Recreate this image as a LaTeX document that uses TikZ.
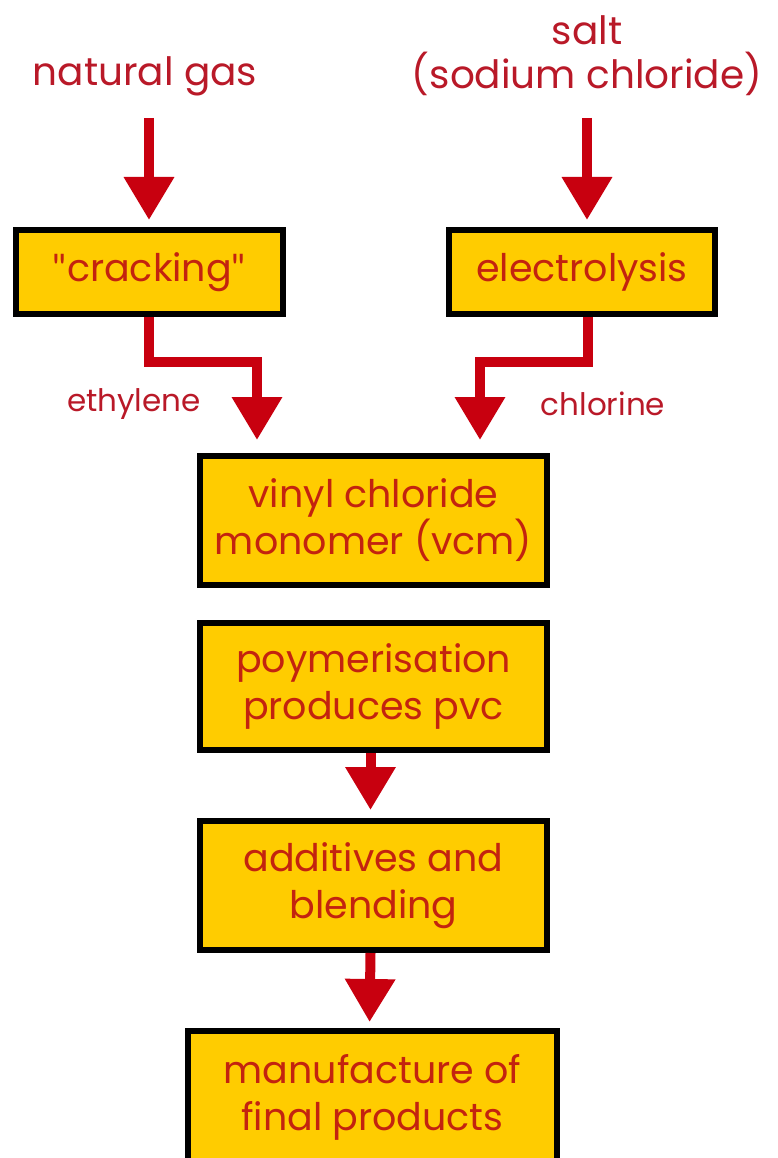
\documentclass[tikz,border=0pt]{standalone}
\usepackage{fontspec}
\setmainfont{Poppins}
\newfontfamily\quotefont{Lato}
\usetikzlibrary{arrows.meta,calc}

\definecolor{inkred}{RGB}{185,25,40}
\definecolor{boxred}{RGB}{195,35,15}
\definecolor{flowred}{RGB}{200,0,15}
\definecolor{boxgold}{RGB}{255,204,0}

\newcommand{\sq}{{\quotefont\symbol{34}}}

\tikzset{
  stage/.style={draw=black, line width=6pt, fill=boxgold, text=boxred,
    align=center, inner sep=0pt,
    font=\fontsize{38}{47}\selectfont},
  source/.style={text=inkred, align=center, inner sep=0pt,
    font=\fontsize{39}{44}\selectfont},
  product/.style={text=inkred, inner sep=0pt,
    font=\fontsize{31}{34}\selectfont},
  flow/.style={draw=flowred, line width=10pt,
    -{Triangle[width=48pt,length=43pt]}},
}

\begin{document}
\begin{tikzpicture}[x=1pt,y=-1pt]
\useasboundingbox (0,0) rectangle (777,1158);

% raw materials
\node[source] (gas) at (145,76) {natural gas};
\node[source] (salt) at (587,56) {salt\\(sodium chloride)};

% process stages
\node[stage, minimum width=267pt, minimum height=84pt] (crack) at (149.5,272) {\sq cracking\sq};
\node[stage, minimum width=266pt, minimum height=84pt] (elec) at (582,272) {electrolysis};
\node[stage, minimum width=347pt, minimum height=129pt] (vcm) at (373.5,520.5) {vinyl chloride\\monomer (vcm)};
\node[stage, minimum width=347pt, minimum height=127pt] (poly) at (373.5,686.5) {poymerisation\\produces pvc};
\node[stage, minimum width=347pt, minimum height=129pt] (add) at (373.5,885.5) {additives and\\blending};
\node[stage, minimum width=369pt, minimum height=132pt] (man) at (372.5,1097) {manufacture of\\final products};

% intermediate products
\node[product] (eth) at (134,404) {ethylene};
\node[product] (chl) at (603,404) {chlorine};

% routing points
\coordinate (gasfoot) at (149,118);
\coordinate (saltfoot) at (587,118);
\coordinate (ethbend) at (257,362);
\coordinate (clstart) at (588,317);
\coordinate (clbend) at (480,362);

% flows
\draw[flow, shorten >=7pt] (gasfoot) -- (gasfoot |- crack.north);
\draw[flow, shorten >=7pt] (saltfoot) -- (saltfoot |- elec.north);
\draw[flow, shorten >=13pt] (crack.south -| gasfoot) |- (ethbend) -- (ethbend |- vcm.north);
\draw[flow, shorten >=13pt] (clstart) |- (clbend) -- (clbend |- vcm.north);
\draw[flow, shorten >=8pt] ([xshift=-3pt]poly.south) -- ([xshift=-3pt]add.north);
\draw[flow, shorten >=6pt] ([xshift=-3pt]add.south) -- ([xshift=-3pt]man.north);
\end{tikzpicture}
\end{document}
